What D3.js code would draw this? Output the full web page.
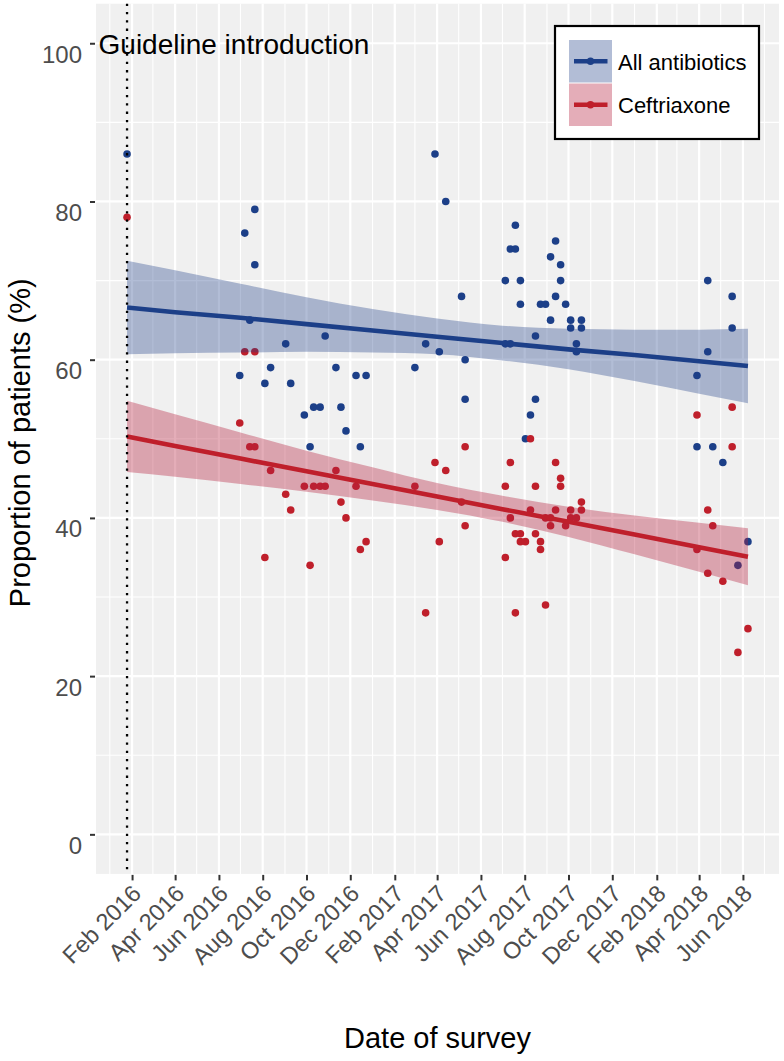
<!DOCTYPE html>
<html>
<head>
<meta charset="utf-8">
<script src="https://cdn.jsdelivr.net/npm/d3@7"></script>
<style>
  html, body { margin: 0; padding: 0; background: #ffffff; }
  svg { display: block; font-family: "Liberation Sans", Arial, Helvetica, sans-serif; }
</style>
</head>
<body>
<svg id="chart" width="784" height="1061"></svg>
<script>
// ---------------- data ----------------
const allDates = [
  "2016-01-25","2016-06-30","2016-07-07","2016-07-14","2016-07-21","2016-07-21","2016-08-04","2016-08-12",
  "2016-09-02","2016-09-09","2016-09-28","2016-10-06","2016-10-11","2016-10-20","2016-10-27","2016-11-11",
  "2016-11-18","2016-11-25","2016-12-09","2016-12-15","2016-12-23","2017-03-01","2017-03-16","2017-03-29",
  "2017-04-04","2017-04-13","2017-05-05","2017-05-10","2017-05-10","2017-07-05","2017-07-05","2017-07-12",
  "2017-07-12","2017-07-19","2017-07-19","2017-07-26","2017-07-26","2017-08-02","2017-08-09","2017-08-16",
  "2017-08-16","2017-08-23","2017-08-30","2017-09-06","2017-09-06","2017-09-13","2017-09-13","2017-09-20",
  "2017-09-20","2017-09-27","2017-10-04","2017-10-04","2017-10-12","2017-10-12","2017-10-19","2017-10-19",
  "2018-03-29","2018-03-29","2018-04-13","2018-04-13","2018-04-20","2018-05-04","2018-05-17","2018-05-17",
  "2018-05-25","2018-06-08"
];
const allValues = [
  86,58,76,65,79,72,57,59,
  62,57,53,49,54,54,63,59,
  54,51,58,49,58,59,62,86,
  61,80,68,60,55,70,62,74,
  62,77,74,70,67,50,53,55,
  63,67,67,73,65,75,68,72,
  70,67,65,64,62,61,65,64,
  58,49,70,61,49,47,68,64,
  34,37
];
const cefDates = [
  "2016-01-25","2016-06-30","2016-07-07","2016-07-14","2016-07-21","2016-07-21","2016-08-04","2016-08-12",
  "2016-09-02","2016-09-09","2016-09-28","2016-10-06","2016-10-11","2016-10-20","2016-10-27","2016-11-11",
  "2016-11-18","2016-11-25","2016-12-09","2016-12-15","2016-12-23","2017-03-01","2017-03-16","2017-03-29",
  "2017-04-04","2017-04-13","2017-05-05","2017-05-10","2017-05-10","2017-07-05","2017-07-05","2017-07-12",
  "2017-07-12","2017-07-19","2017-07-19","2017-07-26","2017-07-26","2017-08-02","2017-08-09","2017-08-09",
  "2017-08-16","2017-08-16","2017-08-23","2017-08-23","2017-08-30","2017-08-30","2017-09-06","2017-09-06",
  "2017-09-13","2017-09-13","2017-09-20","2017-09-20","2017-09-27","2017-10-04","2017-10-04","2017-10-12",
  "2017-10-19","2017-10-19","2018-03-29","2018-03-29","2018-04-13","2018-04-13","2018-04-20","2018-05-04",
  "2018-05-17","2018-05-17","2018-05-25","2018-06-08"
];
const cefValues = [
  78,52,61,49,61,49,35,46,
  43,41,44,34,44,44,44,46,
  42,40,44,36,37,44,28,47,
  37,46,42,49,39,44,35,47,
  40,38,28,38,37,37,50,41,
  44,38,37,36,40,29,39,40,
  47,41,45,44,39,41,40,40,
  42,41,53,36,41,33,39,32,
  54,49,23,26
];
// fitted line and 95% band at these dates
const bandDates = ["2016-01-25","2016-04-01","2016-07-01","2016-10-01","2017-01-01","2017-04-01",
                   "2017-07-01","2017-10-01","2018-01-01","2018-04-01","2018-06-08"];
const allFit   = [66.6, 66.0, 65.3, 64.5, 63.7, 62.9, 62.1, 61.3, 60.6, 59.8, 59.2];
const allUpper = [72.5, 71.3, 69.6, 67.9, 66.4, 65.2, 64.3, 63.9, 63.8, 63.8, 63.9];
const allLower = [60.7, 60.8, 60.9, 61.0, 60.9, 60.7, 59.9, 58.8, 57.3, 55.7, 54.5];
const cefFit   = [50.3, 49.1, 47.5, 45.9, 44.3, 42.7, 41.1, 39.5, 37.9, 36.3, 35.1];
const cefUpper = [54.8, 53.1, 50.8, 48.5, 46.4, 44.4, 42.8, 41.4, 40.3, 39.4, 38.7];
const cefLower = [45.8, 45.2, 44.3, 43.3, 42.2, 41.0, 39.5, 37.6, 35.4, 33.2, 31.5];

const guidelineDate = "2016-01-25";
const guidelineLabel = "Guideline introduction";
const xTickLabels = ["Feb 2016","Apr 2016","Jun 2016","Aug 2016","Oct 2016","Dec 2016","Feb 2017",
  "Apr 2017","Jun 2017","Aug 2017","Oct 2017","Dec 2017","Feb 2018","Apr 2018","Jun 2018"];
const yTicks = [0, 20, 40, 60, 80, 100];
const seriesNames = ["All antibiotics", "Ceftriaxone"];
const xTitle = "Date of survey";
const yTitle = "Proportion of patients (%)";

// ---------------- setup ----------------
const parse = d3.timeParse("%Y-%m-%d");
const parseTick = d3.timeParse("%b %Y");
const COL_BLUE = "#1c3f88";
const COL_RED = "#bf1f2b";
const BAND_BLUE = "#1c3f88";
const BAND_RED = "#b5203f";
const ALPHA_BLUE = 0.34;
const ALPHA_RED = 0.37;

const panel = { left: 96, right: 779, top: 3.7, bottom: 873.9 };
const svg = d3.select("#chart");

const allPts = allDates.map((d, i) => ({ date: parse(d), v: allValues[i] }));
const cefPts = cefDates.map((d, i) => ({ date: parse(d), v: cefValues[i] }));
const dAll = allPts.concat(cefPts).map(p => p.date);
const dMin = d3.min(dAll), dMax = d3.max(dAll);
const span = dMax - dMin;
const x = d3.scaleTime()
  .domain([new Date(+dMin - span * 0.05), new Date(+dMax + span * 0.05)])
  .range([panel.left, panel.right]);
const y = d3.scaleLinear().domain([-5, 105]).range([panel.bottom, panel.top]);

// panel background
svg.append("rect")
  .attr("x", panel.left).attr("y", panel.top)
  .attr("width", panel.right - panel.left).attr("height", panel.bottom - panel.top)
  .attr("fill", "#f0f0f0");

const grid = svg.append("g");
const yMinor = d3.range(10, 100, 20);
grid.selectAll(".hmin").data(yMinor).join("line")
  .attr("x1", panel.left).attr("x2", panel.right)
  .attr("y1", d => y(d)).attr("y2", d => y(d))
  .attr("stroke", "#ffffff").attr("stroke-width", 1.1);
const xMajorDates = xTickLabels.map(s => parseTick(s));
const xMinorDates = d3.timeMonth.range(x.domain()[0], x.domain()[1])
  .filter(d => !xMajorDates.some(m => +m === +d));
grid.selectAll(".vmin").data(xMinorDates).join("line")
  .attr("x1", d => x(d)).attr("x2", d => x(d))
  .attr("y1", panel.top).attr("y2", panel.bottom)
  .attr("stroke", "#ffffff").attr("stroke-width", 1.1);
grid.selectAll(".hmaj").data(yTicks).join("line")
  .attr("x1", panel.left).attr("x2", panel.right)
  .attr("y1", d => y(d)).attr("y2", d => y(d))
  .attr("stroke", "#ffffff").attr("stroke-width", 2.2);
grid.selectAll(".vmaj").data(xMajorDates).join("line")
  .attr("x1", d => x(d)).attr("x2", d => x(d))
  .attr("y1", panel.top).attr("y2", panel.bottom)
  .attr("stroke", "#ffffff").attr("stroke-width", 2.2);

// points
const ptsG = svg.append("g");
ptsG.selectAll(".pa").data(allPts).join("circle")
  .attr("cx", d => x(d.date)).attr("cy", d => y(d.v)).attr("r", 3.8)
  .attr("fill", COL_BLUE);
ptsG.selectAll(".pc").data(cefPts).join("circle")
  .attr("cx", d => x(d.date)).attr("cy", d => y(d.v)).attr("r", 3.8)
  .attr("fill", COL_RED);

// smooth bands + lines
const band = bandDates.map((d, i) => ({
  date: parse(d),
  aF: allFit[i], aU: allUpper[i], aL: allLower[i],
  cF: cefFit[i], cU: cefUpper[i], cL: cefLower[i]
}));
const areaA = d3.area().curve(d3.curveMonotoneX)
  .x(d => x(d.date)).y0(d => y(d.aL)).y1(d => y(d.aU));
const areaC = d3.area().curve(d3.curveMonotoneX)
  .x(d => x(d.date)).y0(d => y(d.cL)).y1(d => y(d.cU));
const lineA = d3.line().x(d => x(d.date)).y(d => y(d.aF));
const lineC = d3.line().x(d => x(d.date)).y(d => y(d.cF));

svg.append("path").datum(band).attr("d", areaA)
  .attr("fill", BAND_BLUE).attr("fill-opacity", ALPHA_BLUE);
svg.append("path").datum(band).attr("d", lineA)
  .attr("fill", "none").attr("stroke", COL_BLUE).attr("stroke-width", 4.6);
svg.append("path").datum(band).attr("d", areaC)
  .attr("fill", BAND_RED).attr("fill-opacity", ALPHA_RED);
svg.append("path").datum(band).attr("d", lineC)
  .attr("fill", "none").attr("stroke", COL_RED).attr("stroke-width", 4.6);

// guideline vertical dotted line
const gx = x(parse(guidelineDate));
svg.append("line")
  .attr("x1", gx).attr("x2", gx).attr("y1", panel.top).attr("y2", panel.bottom)
  .attr("stroke", "#000").attr("stroke-width", 2.3).attr("stroke-dasharray", "2.3,6");
svg.append("text")
  .attr("x", gx - 28.5).attr("y", 54)
  .attr("font-size", 28).attr("fill", "#000")
  .text(guidelineLabel);

// axes
const yAxis = d3.axisLeft(y).tickValues(yTicks).tickSize(6).tickPadding(0);
const gy = svg.append("g").attr("transform", `translate(${panel.left},0)`).call(yAxis);
gy.select(".domain").remove();
gy.selectAll(".tick line").attr("stroke", "#333333").attr("stroke-width", 2).attr("x1", -6).attr("x2", -1);
gy.selectAll(".tick text")
  .attr("x", -14).attr("dy", null).attr("y", 19)
  .attr("font-size", 24).attr("fill", "#4d4d4d")
  .attr("font-family", "Liberation Sans, Arial, sans-serif")
  .attr("text-anchor", "end");

const xAxis = d3.axisBottom(x).tickValues(xMajorDates).tickSize(6)
  .tickFormat((d, i) => xTickLabels[i]);
const gxAxis = svg.append("g").attr("transform", `translate(0,${panel.bottom})`).call(xAxis);
gxAxis.select(".domain").remove();
gxAxis.selectAll(".tick line").attr("stroke", "#333333").attr("stroke-width", 2).attr("y1", 1).attr("y2", 6.5);
gxAxis.selectAll(".tick text")
  .attr("y", null).attr("dy", null)
  .attr("transform", "translate(10,21) rotate(-45)")
  .attr("font-size", 23.5).attr("fill", "#4d4d4d")
  .attr("font-family", "Liberation Sans, Arial, sans-serif")
  .attr("text-anchor", "end");

// axis titles
svg.append("text")
  .attr("x", (panel.left + panel.right) / 2).attr("y", 1048)
  .attr("text-anchor", "middle").attr("font-size", 29).attr("fill", "#000")
  .text(xTitle);
svg.append("text")
  .attr("transform", `translate(29.5,${(panel.top + panel.bottom) / 2 + 4}) rotate(-90)`)
  .attr("text-anchor", "middle").attr("font-size", 29).attr("fill", "#000")
  .text(yTitle);

// legend
const lg = svg.append("g");
lg.append("rect").attr("x", 555).attr("y", 26).attr("width", 204).attr("height", 113)
  .attr("fill", "#ffffff").attr("stroke", "#000").attr("stroke-width", 2.2);
const legendItems = [
  { name: seriesNames[0], color: COL_BLUE, band: BAND_BLUE, alpha: ALPHA_BLUE, y0: 40, h: 42.5 },
  { name: seriesNames[1], color: COL_RED, band: BAND_RED, alpha: ALPHA_RED, y0: 83.5, h: 42.5 }
];
legendItems.forEach(it => {
  const cy = it.y0 + it.h / 2;
  lg.append("rect").attr("x", 569).attr("y", it.y0).attr("width", 43).attr("height", it.h)
    .attr("fill", it.band).attr("fill-opacity", it.alpha);
  lg.append("line").attr("x1", 574).attr("x2", 607.5).attr("y1", cy).attr("y2", cy)
    .attr("stroke", it.color).attr("stroke-width", 4.4);
  lg.append("circle").attr("cx", 590.5).attr("cy", cy).attr("r", 3.7).attr("fill", it.color);
  lg.append("text").attr("x", 618).attr("y", cy + 8.3)
    .attr("font-size", 22).attr("fill", "#000").text(it.name);
});
</script>
</body>
</html>
